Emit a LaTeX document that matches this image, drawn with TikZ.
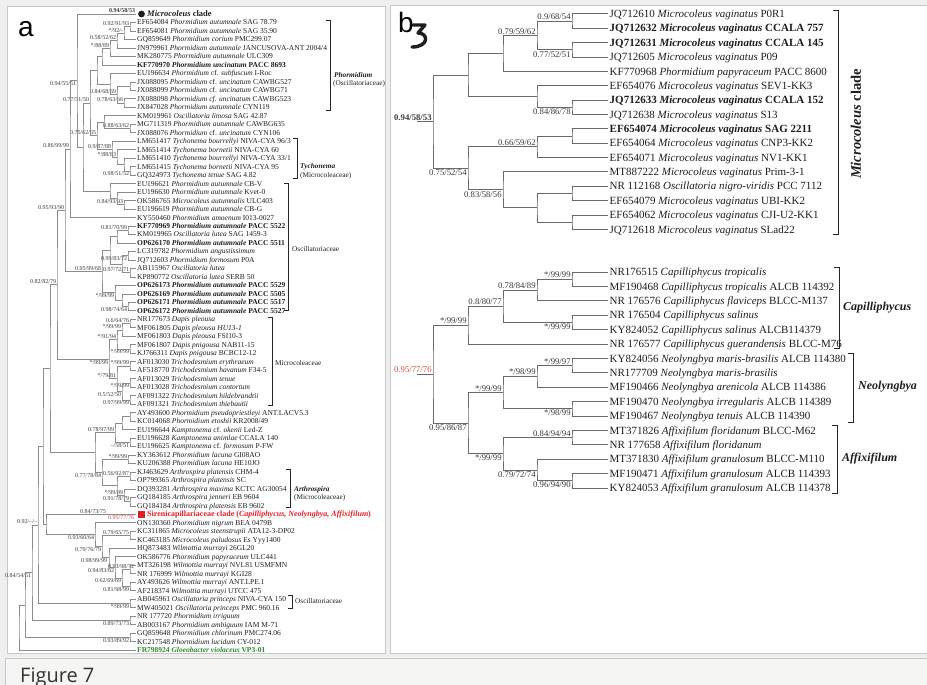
\documentclass[tikz,border=0pt]{standalone}
\usepackage{fontspec}
\setmainfont{Liberation Serif}
\newfontfamily\panelfont{Liberation Sans}
\newfontfamily\capfont{Open Sans}
\usetikzlibrary{calc}

\definecolor{pagebg}{HTML}{EFEFEF}
\definecolor{framec}{HTML}{C8C8C8}
\definecolor{capbg}{HTML}{F5F5F3}
\definecolor{brgray}{HTML}{8C8C8C}
\definecolor{brdark}{HTML}{6A6A6A}
\definecolor{txtc}{HTML}{1E1E1E}
\definecolor{labc}{HTML}{3A3A3A}
\definecolor{sirred}{HTML}{E31E24}
\definecolor{supred}{HTML}{D24B47}
\definecolor{gloeo}{HTML}{2E8B2E}
\definecolor{capc}{HTML}{333333}

\tikzset{
  br/.style={draw=brgray, line width=0.65pt},
  brb/.style={draw=brdark, line width=1pt},
  leafa/.style={anchor=west, inner xsep=1pt, inner ysep=0pt, text height=5.3pt, text depth=0.3pt, text=txtc, font=\fontsize{7.5}{8}\selectfont},
  leafb/.style={anchor=west, inner xsep=1.5pt, inner ysep=0pt, text height=7.6pt, text depth=0.4pt, text=txtc, font=\fontsize{11}{12}\selectfont},
  supa/.style={inner sep=0.8pt, text=labc, font=\fontsize{6}{6}\selectfont},
  supb/.style={inner sep=1.2pt, text=labc, font=\fontsize{8.7}{9}\selectfont},
  brk/.style={draw=black!85, line width=0.5pt},
  brkb/.style={draw=black!85, line width=0.9pt},
  grp/.style={anchor=west, inner sep=0pt, text=txtc, font=\fontsize{7.3}{8}\selectfont},
  grpb/.style={anchor=west, inner sep=0pt, text=txtc, font=\fontsize{12}{12}\selectfont\bfseries\itshape},
}

% clade: [style]{name}{x}{upper child}{lower child}
\newcommand{\clade}[5][br]{%
  \path let \p1=(#4), \p2=(#5) in coordinate (#2) at (#3pt,{0.5*\y1+0.5*\y2});
  \draw[#1] (#4) -| (#2) |- (#5);
}
\newcommand{\supup}[3][supa]{\node[#1,anchor=south east] (#2-l) at (#2) {#3};}
\newcommand{\supdn}[3][supa]{\node[#1,anchor=north east] (#2-l) at (#2) {#3};}

\begin{document}
\begin{tikzpicture}[x=1pt, y=-1pt]
  \useasboundingbox (0,0) rectangle (927,685);
  \fill[pagebg] (0,0) rectangle (927,685);
  \filldraw[fill=white, draw=framec] (7,6) rectangle (385,653);
  \filldraw[fill=white, draw=framec] (390,5) rectangle (940,653);
  \filldraw[fill=capbg, draw=framec] (5,658) rectangle (940,700);
  \node[font=\capfont\fontsize{20}{20}\selectfont, text=capc, anchor=base west, inner sep=0pt] (fig7) at (20,682) {Figure 7};

  % panel a
  \node[font=\panelfont\fontsize{28}{28}\selectfont, anchor=base west, inner sep=0pt] (pa) at (18,37) {a};
  \foreach \txt [count=\i] in {
    {\fontsize{8.5}{9}\selectfont\hspace{10pt}\textbf{\textit{Microcoleus} clade}},
    EF654084 \textit{Phormidium autumnale} SAG 78.79,
    EF654081 \textit{Phormidium autumnale} SAG 35.90,
    GQ859649 \textit{Phormidium corium} PMC299.07,
    JN979961 \textit{Phormidium autumnale} JANCUSOVA-ANT 2004/4,
    MK280775 \textit{Phormidium autumnale} ULC309,
    \textbf{KF770970 \textit{Phormidium uncinatum} PACC 8693},
    EU196634 \textit{Phormidium} cf. \textit{subfuscum} I-Roc,
    JX088095 \textit{Phormidium} cf. \textit{uncinatum} CAWBG527,
    JX088099 \textit{Phormidium} cf. \textit{uncinatum} CAWBG71,
    JX088098 \textit{Phormidium cf. uncinatum} CAWBG523,
    JX847028 \textit{Phormidium autumnale} CYN119,
    KM019961 \textit{Oscillatoria limosa} SAG 42.87,
    MG711319 \textit{Phormidium autumnale} CAWBG635,
    JX088076 \textit{Phormidium} cf. \textit{uncinatum} CYN106,
    LM651417 \textit{Tychonema bourrellyi} NIVA-CYA 96/3,
    LM651414 \textit{Tychonema bornetii} NIVA-CYA 60,
    LM651410 \textit{Tychonema bourrellyi} NIVA-CYA 33/1,
    LM651415 \textit{Tychonema bornetii} NIVA-CYA 95,
    GQ324973 \textit{Tychonema tenue} SAG 4.82,
    EU196621 \textit{Phormidium autumnale} CB-V,
    EU196630 \textit{Phormidium autumnale} Kvet-0,
    OK586765 \textit{Microcoleus autumnalis} ULC403,
    EU196619 \textit{Phormidium autumnale} CB-G,
    KY550460 \textit{Phormidium amoenum} I013-0027,
    \textbf{KF770969 \textit{Phormidium autumnale} PACC 5522},
    KM019965 \textit{Oscillatoria lutea} SAG 1459-3,
    \textbf{OP626170 \textit{Phormidium autumnale} PACC 5511},
    LC319782 \textit{Phormidium angustissimum},
    JQ712603 \textit{Phormidium formosum} P0A,
    AB115967 \textit{Oscillatoria lutea},
    KP890772 \textit{Oscillatoria lutea} SERB 50,
    \textbf{OP626173 \textit{Phormidium autumnale} PACC 5529},
    \textbf{OP626169 \textit{Phormidium autumnale} PACC 5505},
    \textbf{OP626171 \textit{Phormidium autumnale} PACC 5517},
    \textbf{OP626172 \textit{Phormidium autumnale} PACC 5527},
    NR177673 \textit{Dapis pleousa},
    MF061805 \textit{Dapis pleousa HU13-1},
    MF061803 \textit{Dapis pleousa} FSI10-3,
    MF061807 \textit{Dapis pnigousa} NAB11-15,
    KJ766311 \textit{Dapis pnigousa} BCBC12-12,
    AF013030 \textit{Trichodesmium erythraeum},
    AF518770 \textit{Trichodesmium havanum} F34-5,
    AF013029 \textit{Trichodesmium tenue},
    AF013028 \textit{Trichodesmium contortum},
    AF091322 \textit{Trichodesmium hildebrandtii},
    AF091321 \textit{Trichodesmium thiebautii},
    AY493600 \textit{Phormidium pseudopriestleyi} ANT.LACV5.3,
    KC014068 \textit{Phormidium etoshii} KR2008/49,
    EU196644 \textit{Kamptonema} cf. \textit{okenii} Led-Z,
    EU196628 \textit{Kamptonema animlae} CCALA 140,
    EU196625 \textit{Kamptonema} cf. \textit{formosum} P-FW,
    KY363612 \textit{Phormidium lacuna} GI08AO,
    KU206388 \textit{Phormidium lacuna} HE10JO,
    KJ463629 \textit{Arthrospira platensis} CHM-4,
    OP799365 \textit{Arthrospira platensis} SC,
    DQ393281 \textit{Arthrospira maxima} KCTC AG30054,
    GQ184185 \textit{Arthrospira jenneri} EB 9604,
    GQ184184 \textit{Arthrospira platensis} EB 9602,
    {\color{sirred}\fontsize{8}{9}\selectfont\bfseries\hspace{10pt}Sirenicapillariaceae clade (\textit{Capilliphycus, Neolyngbya, Affixifilum})},
    ON130360 \textit{Phormidium nigrum} BEA 0479B,
    KC311865 \textit{Microcoleus steenstrupii} ATA12-3-DP02,
    KC463185 \textit{Microcoleus paludosus} Es Yyy1400,
    HQ873483 \textit{Wilmottia murrayi} 26GL20,
    OK586776 \textit{Phormidium papyraceum} ULC441,
    MT326198 \textit{Wilmottia murrayi} NVL81 USMFMN,
    NR 176999 \textit{Wilmottia murrayi} KGI28,
    AY493626 \textit{Wilmottia murrayi} ANT.LPE.1,
    AF218374 \textit{Wilmottia murrayi} UTCC 475,
    AB045961 \textit{Oscillatoria princeps} NIVA-CYA 150,
    MW405021 \textit{Oscillatoria princeps} PMC 960.16,
    NR 177720 \textit{Phormidium irriguum},
    AB003167 \textit{Phormidium ambiguum} IAM M-71,
    GQ859648 \textit{Phormidium chlorinum} PMC274.06,
    KC217548 \textit{Phormidium lucidum} CY-012,
    {\color{gloeo}\bfseries FR798924 \textit{Gloeobacter violaceus} VP3-01}
  }{
    \node[leafa] (a\i) at (136,{14+(\i-1)*8.48}) {\txt};
  }
  \fill[txtc] ([xshift=5.5pt]a1.west) circle (3.4pt);
  \fill[sirred] ([xshift=2pt,yshift=-3.5pt]a60.west) rectangle ++(7pt,7pt);
  \node[supa, font=\fontsize{6}{6}\selectfont\bfseries, anchor=south east] (a1-l) at (a1.west) {0.94/58/53};
  \node[supa, anchor=south east] (a60-l) at ([xshift=-29pt]a60.west) {0.84/73/75};
  \node[supa, text=supred, anchor=north east] (a60-r) at ([xshift=-1pt]a60.west) {0.95/77/76};

  \clade{p23}{130}{a2}{a3} \supup{p23}{0.92/91/93}
  \clade{p24}{124}{p23}{a4} \supup{p24}{*/92/-}
  \clade{p25}{117}{p24}{a5} \supup{p25}{0.58/52/62}
  \clade{p26}{110}{p25}{a6} \supup{p26}{*/88/89}
  \clade{p27}{102}{p26}{a7}
  \clade{p910}{130}{a9}{a10}
  \clade{p1112}{124}{a11}{a12} \supup{p1112}{0.78/63/66}
  \clade{p912}{117}{p910}{p1112} \supup{p912}{0.84/68/69}
  \clade{p812}{110}{a8}{p912}
  \clade{ph}{97}{p27}{p812}
  \clade{p1415}{130}{a14}{a15} \supup{p1415}{0.88/63/62}
  \clade{p1315}{104}{a13}{p1415}
  \clade{t1920}{130}{a19}{a20} \supdn{t1920}{0.98/51/52}
  \clade{t1820}{124}{a18}{t1920}
  \clade{t1720}{117}{a17}{t1820} \supup{t1720}{*/88/83}
  \clade{ty}{112}{a16}{t1720} \supup{ty}{0.9/87/88}
  \clade{pty}{97}{p1315}{ty} \supup{pty}{0.75/62/65}
  \clade{yn}{90}{ph}{pty} \supup{yn}{0.77/51/50}
  \clade{q2324}{124}{a23}{a24} \supup{q2324}{0.84/93/93}
  \clade{q2224}{117}{a22}{q2324}
  \clade{q2124}{110}{a21}{q2224}
  \clade{bq}{83}{yn}{q2124}
  \clade{an}{77}{a1}{bq} \supdn{an}{0.94/55/51}
  \clade{dn}{70}{an}{a25} \supup{dn}{0.86/99/99}
  \clade{o2627}{128}{a26}{a27} \supup{o2627}{0.81/70/99}
  \clade{o2628}{117}{o2627}{a28}
  \clade{o2930}{128}{a29}{a30} \supdn{o2930}{0.99/83/72}
  \clade{o3132}{130}{a31}{a32} \supup{o3132}{0.97/72/71}
  \clade{o2932}{122}{o2930}{o3132}
  \clade{oa}{110}{o2628}{o2932}
  \clade{o3536}{128}{a35}{a36} \supdn{o3536}{0.98/74/64}
  \clade{o3436}{122}{a34}{o3536}
  \clade{o3336}{115}{a33}{o3436} \supdn{o3336}{*/99/99}
  \clade{ob}{102}{oa}{o3336} \supup{ob}{0.95/99/68}
  \clade{en}{65}{dn}{ob} \supup{en}{0.95/93/90}
  \clade{d3738}{130}{a37}{a38} \supup{d3738}{0.6/64/76}
  \clade{d3739}{122}{d3738}{a39} \supup{d3739}{*/99/99}
  \clade{d4041}{130}{a40}{a41} \supdn{d4041}{*/99/99}
  \clade{dap}{117}{d3739}{d4041} \supup{dap}{*/91/94}
  \clade{t4243}{130}{a42}{a43} \supup{t4243}{*/99/99}
  \clade{t4445}{130}{a44}{a45} \supdn{t4445}{*/99/99}
  \clade{t4647}{130}{a46}{a47} \supdn{t4647}{0.97/99/99}
  \clade{t4447}{122}{t4445}{t4647} \supdn{t4447}{0.5/52/50}
  \clade{tri}{117}{t4243}{t4447} \supup{tri}{*/79/81}
  \clade{dt}{109}{dap}{tri} \supdn{dt}{*/99/99}
  \clade{fn}{57}{en}{dt} \supup{fn}{0.82/82/79}
  \clade{k4849}{130}{a48}{a49}
  \clade{k4850}{122}{k4849}{a50}
  \clade{k5152}{130}{a51}{a52} \supdn{k5152}{--/58/51}
  \clade{kn}{115}{k4850}{k5152} \supup{kn}{0.78/97/99}
  \clade{k5354}{128}{a53}{a54} \supup{k5354}{*/99/99}
  \clade{ar5556}{130}{a55}{a56} \supup{ar5556}{0.56/92/87}
  \clade{ar5859}{130}{a58}{a59} \supup{ar5859}{0.91/78/79}
  \clade{ar5759}{124}{a57}{ar5859} \supup{ar5759}{*/99/99}
  \clade{ar}{117}{ar5556}{ar5759}
  \clade{kar}{102}{k5354}{ar} \supdn{kar}{0.77/78/84}
  \clade{l1}{95}{kn}{kar}
  \clade{u1}{50}{fn}{l1}
  \clade{m6263}{130}{a62}{a63} \supup{m6263}{0.79/65/75}
  \clade{w6667}{130}{a66}{a67}
  \node[supa, anchor=south east] (w6667-l) at ([xshift=5pt]w6667) {0.93/98/72};
  \clade{w6869}{130}{a68}{a69} \supdn{w6869}{0.81/98/99}
  \clade{w6669}{122}{w6667}{w6869} \supdn{w6669}{0.62/69/69}
  \clade{w6569}{115}{a65}{w6669} \supdn{w6569}{0.94/83/82}
  \clade{w6469}{109}{a64}{w6569}
  \node[supa, anchor=north east] (w6469-l) at ([xshift=-1pt]w6469) {0.98/99/99};
  \clade{m6269}{102}{m6263}{w6469} \supdn{m6269}{0.79/76/79}
  \clade{l2}{95}{a61}{m6269} \supdn{l2}{0.93/60/64}
  \clade{x43}{46}{a60}{l2}
  \clade{p41}{43}{u1}{x43}
  \clade{o7071}{130}{a70}{a71} \supdn{o7071}{*/99/99}
  \clade{p38}{38}{p41}{o7071} \supup{p38}{0.92/--/--}
  \clade{n7273}{130}{a72}{a73} \supdn{n7273}{0.89/73/73}
  \clade{p32}{32}{p38}{n7273} \supdn{p32}{0.84/54/51}
  \clade{n7475}{130}{a74}{a75} \supdn{n7475}{0.93/89/92}
  \clade{p25}{25}{p32}{n7475}
  \clade{rt}{19}{p25}{a76}

  % brackets of panel a
  \foreach \x/\ya/\yb in {330/20/110, 297/138/178, 288/183/310, 272/317/405, 290/469/507, 292/595/608}
    \draw[brk] (\x-4,\ya) -- (\x,\ya) -- (\x,\yb) -- (\x-4,\yb);
  \node[grp, font=\fontsize{7.3}{8}\selectfont\bfseries\itshape] (gpho) at (334,75) {Phormidium};
  \node[grp] (gphof) at (333,84) {(Oscillatoriaceae)};
  \node[grp, font=\fontsize{7.3}{8}\selectfont\bfseries\itshape] (gtyc) at (300,167) {Tychonema};
  \node[grp] (gtycf) at (300,176) {(Microcoleaceae)};
  \node[grp] (gosc) at (292,249) {Oscillatoriaceae};
  \node[grp] (gmic) at (275,363) {Microcoleaceae};
  \node[grp, font=\fontsize{7.3}{8}\selectfont\bfseries\itshape] (gart) at (294,490) {Arthrospira};
  \node[grp] (gartf) at (294,498) {(Microcoleaceae)};
  \node[grp] (gosc2) at (295,601) {Oscillatoriaceae};

  % panel b
  \node[font=\panelfont\fontsize{28}{28}\selectfont, anchor=base west, inner sep=0pt] (pb) at (398,33) {b};
  \draw[txtc, line width=3.4pt, line join=round, line cap=round] (413,25) -- (425,25) -- (418,33) .. controls (429,33) and (429,47) .. (412,47);
  \foreach \txt [count=\i] in {
    JQ712610 \textit{Microcoleus vaginatus} P0R1,
    \textbf{JQ712632 \textit{Microcoleus vaginatus} CCALA 757},
    \textbf{JQ712631 \textit{Microcoleus vaginatus} CCALA 145},
    JQ712605 \textit{Microcoleus vaginatus} P09,
    KF770968 \textit{Phormidium papyraceum} PACC 8600,
    EF654076 \textit{Microcoleus vaginatus} SEV1-KK3,
    \textbf{JQ712633 \textit{Microcoleus vaginatus} CCALA 152},
    JQ712638 \textit{Microcoleus vaginatus} S13,
    \textbf{EF654074 \textit{Microcoleus vaginatus} SAG 2211},
    EF654064 \textit{Microcoleus vaginatus} CNP3-KK2,
    EF654071 \textit{Microcoleus vaginatus} NV1-KK1,
    MT887222 \textit{Microcoleus vaginatus} Prim-3-1,
    NR 112168 \textit{Oscillatoria nigro-viridis} PCC 7112,
    EF654079 \textit{Microcoleus vaginatus} UBI-KK2,
    EF654062 \textit{Microcoleus vaginatus} CJI-U2-KK1,
    JQ712618 \textit{Microcoleus vaginatus} SLad22
  }{
    \node[leafb] (mv\i) at (608,{14+(\i-1)*14.36}) {\txt};
  }
  \foreach \txt [count=\i] in {
    NR176515 \textit{Capilliphycus tropicalis},
    MF190468 \textit{Capilliphycus tropicalis} ALCB 114392,
    NR 176576 \textit{Capilliphycus flaviceps} BLCC-M137,
    NR 176504 \textit{Capilliphycus salinus},
    KY824052 \textit{Capilliphycus salinus} ALCB114379,
    NR 176577 \textit{Capilliphycus guerandensis} BLCC-M76,
    KY824056 \textit{Neolyngbya maris-brasilis} ALCB 114380,
    NR177709 \textit{Neolyngbya maris-brasilis},
    MF190466 \textit{Neolyngbya arenicola} ALCB 114386,
    MF190470 \textit{Neolyngbya irregularis} ALCB 114389,
    MF190467 \textit{Neolyngbya tenuis} ALCB 114390,
    MT371826 \textit{Affixifilum floridanum} BLCC-M62,
    NR 177658 \textit{Affixifilum floridanum},
    MT371830 \textit{Affixifilum granulosum} BLCC-M110,
    MF190471 \textit{Affixifilum granulosum} ALCB 114393,
    KY824053 \textit{Affixifilum granulosum} ALCB 114378
  }{
    \node[leafb] (sc\i) at (608,{272+(\i-1)*14.4}) {\txt};
  }

  \clade[brb]{v12}{572}{mv1}{mv2} \supup[supb]{v12}{0.9/68/54}
  \clade[brb]{v34}{572}{mv3}{mv4} \supdn[supb]{v34}{0.77/52/51}
  \clade[brb]{v14}{537}{v12}{v34} \supup[supb]{v14}{0.79/59/62}
  \clade[brb]{v15}{503}{v14}{mv5}
  \clade[brb]{v78}{572}{mv7}{mv8} \supdn[supb]{v78}{0.84/86/78}
  \clade[brb]{v68}{537}{mv6}{v78}
  \clade[brb]{va}{468}{v15}{v68}
  \clade[brb]{v910}{572}{mv9}{mv10}
  \clade[brb]{v911}{537}{v910}{mv11} \supup[supb]{v911}{0.66/59/62}
  \clade[brb]{v1314}{572}{mv13}{mv14}
  \clade[brb]{v1516}{572}{mv15}{mv16}
  \clade[brb]{v1316}{537}{v1314}{v1516}
  \clade[brb]{v1216}{503}{mv12}{v1316} \supdn[supb]{v1216}{0.83/58/56}
  \clade[brb]{vb}{468}{v911}{v1216} \supdn[supb]{vb}{0.75/52/54}
  \clade[brb]{vr}{433}{va}{vb}
  \coordinate (vs) at ([xshift=-16pt]vr);
  \draw[brb] (vs) -- (vr);
  \node[supb, font=\fontsize{8.7}{9}\selectfont\bfseries, anchor=south east] (vr-l) at (vr) {0.94/58/53};

  \clade[brb]{c12}{572}{sc1}{sc2} \supup[supb]{c12}{*/99/99}
  \clade[brb]{c13}{537}{c12}{sc3} \supup[supb]{c13}{0.78/84/89}
  \clade[brb]{c45}{572}{sc4}{sc5} \supdn[supb]{c45}{*/99/99}
  \clade[brb]{c15}{503}{c13}{c45} \supup[supb]{c15}{0.8/80/77}
  \clade[brb]{cc}{468}{c15}{sc6} \supup[supb]{cc}{*/99/99}
  \clade[brb]{n78}{572}{sc7}{sc8} \supup[supb]{n78}{*/99/97}
  \clade[brb]{n79}{537}{n78}{sc9} \supup[supb]{n79}{*/98/99}
  \clade[brb]{n1011}{572}{sc10}{sc11} \supdn[supb]{n1011}{*/98/99}
  \clade[brb]{nn}{503}{n79}{n1011} \supup[supb]{nn}{*/99/99}
  \clade[brb]{f1213}{572}{sc12}{sc13} \supup[supb]{f1213}{0.84/94/94}
  \clade[brb]{f1516}{572}{sc15}{sc16} \supdn[supb]{f1516}{0.96/94/90}
  \clade[brb]{f1416}{537}{sc14}{f1516} \supdn[supb]{f1416}{0.79/72/74}
  \clade[brb]{ff}{503}{f1213}{f1416} \supdn[supb]{ff}{*/99/99}
  \clade[brb]{nd}{468}{nn}{ff} \supdn[supb]{nd}{0.95/86/87}
  \clade[brb]{cr}{433}{cc}{nd}
  \coordinate (cs) at ([xshift=-16pt]cr);
  \draw[brb] (cs) -- (cr);
  \node[supb, text=supred, anchor=south east] (cr-l) at (cr) {0.95/77/76};

  % brackets of panel b
  \foreach \x/\ya/\yb in {838/10/234, 839/267/348, 853/353/422, 837/425/493}
    \draw[brkb] (\x-5,\ya) -- (\x,\ya) -- (\x,\yb) -- (\x-5,\yb);
  \node[rotate=90, inner sep=0pt, text=txtc, font=\fontsize{14.5}{15}\selectfont\bfseries] (gmc) at (856,124) {\textit{Microcoleus} clade};
  \node[grpb] (gcap) at (843,308) {Capilliphycus};
  \node[grpb] (gneo) at (858,387) {Neolyngbya};
  \node[grpb] (gaff) at (842,459) {Affixifilum};
\end{tikzpicture}
\end{document}
